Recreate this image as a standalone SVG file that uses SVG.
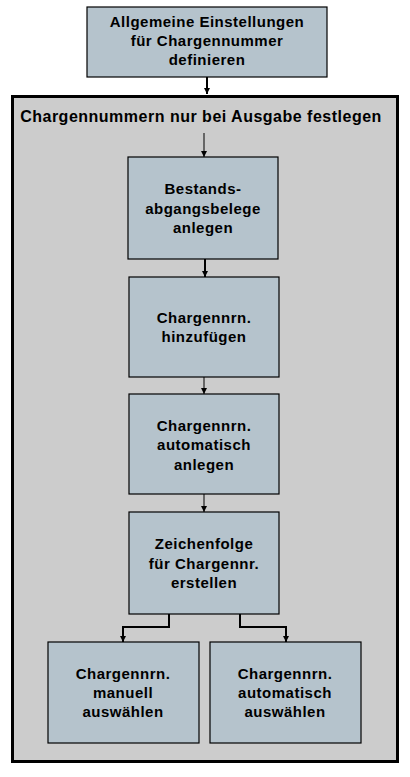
<svg xmlns="http://www.w3.org/2000/svg" width="410" height="777" viewBox="0 0 410 777">
<style>
.box{fill:#b5c3cc;stroke:#000;stroke-width:1.2}
.t{font-family:"Liberation Sans",Arial,sans-serif;font-size:15px;font-weight:bold;fill:#000;text-anchor:middle;letter-spacing:0.5px}
.title{font-size:16px}
.c{fill:none;stroke:#000;stroke-width:1}
.c2{fill:none;stroke:#000;stroke-width:2}
</style>
<defs>
<marker id="a" viewBox="0 0 6 6" refX="6" refY="3" markerWidth="6" markerHeight="6" markerUnits="userSpaceOnUse" orient="auto"><path d="M0,0 L6,3 L0,6 z" fill="#000"/></marker>
</defs>
<rect width="410" height="777" fill="#fff"/>
<g id="container">
<rect x="12.5" y="96.5" width="385" height="665" fill="#cccccc" stroke="#000" stroke-width="3"/>
<text x="201" y="122" class="t title">Chargennummern nur bei Ausgabe festlegen</text>
</g>
<g id="n0"><rect class="box" x="87" y="7" width="240" height="70"/>
<text class="t" x="207" y="27">Allgemeine Einstellungen</text>
<text class="t" x="207" y="46">für Chargennummer</text>
<text class="t" x="207" y="65">definieren</text></g>
<g id="n1"><rect class="box" x="128" y="157" width="150" height="102"/>
<text class="t" x="203" y="194">Bestands-</text>
<text class="t" x="203" y="214">abgangsbelege</text>
<text class="t" x="203" y="233">anlegen</text></g>
<g id="n2"><rect class="box" x="129" y="277" width="150" height="100"/>
<text class="t" x="204" y="323">Chargennrn.</text>
<text class="t" x="204" y="342">hinzufügen</text></g>
<g id="n3"><rect class="box" x="129" y="394" width="150" height="100"/>
<text class="t" x="204" y="431">Chargennrn.</text>
<text class="t" x="204" y="450">automatisch</text>
<text class="t" x="204" y="470">anlegen</text></g>
<g id="n4"><rect class="box" x="129" y="512" width="150" height="102"/>
<text class="t" x="204" y="549">Zeichenfolge</text>
<text class="t" x="204" y="569">für Chargennr.</text>
<text class="t" x="204" y="588">erstellen</text></g>
<g id="n5"><rect class="box" x="48" y="642" width="151" height="101"/>
<text class="t" x="123" y="679">Chargennrn.</text>
<text class="t" x="123" y="698">manuell</text>
<text class="t" x="123" y="717">auswählen</text></g>
<g id="n6"><rect class="box" x="210" y="642" width="151" height="101"/>
<text class="t" x="285" y="679">Chargennrn.</text>
<text class="t" x="285" y="698">automatisch</text>
<text class="t" x="285" y="717">auswählen</text></g>
<g id="connectors">
<path class="c2" d="M207,77 V94" marker-end="url(#a)"/>
<path class="c" d="M204,133 V157" marker-end="url(#a)"/>
<path class="c2" d="M205,259 V277" marker-end="url(#a)"/>
<path class="c" d="M204,377 V394" marker-end="url(#a)"/>
<path class="c" d="M204,494 V512" marker-end="url(#a)"/>
<path class="c2" d="M169,614 V627 H123 V642" marker-end="url(#a)"/>
<path class="c2" d="M240,614 V627 H286 V642" marker-end="url(#a)"/>
</g>
</svg>
